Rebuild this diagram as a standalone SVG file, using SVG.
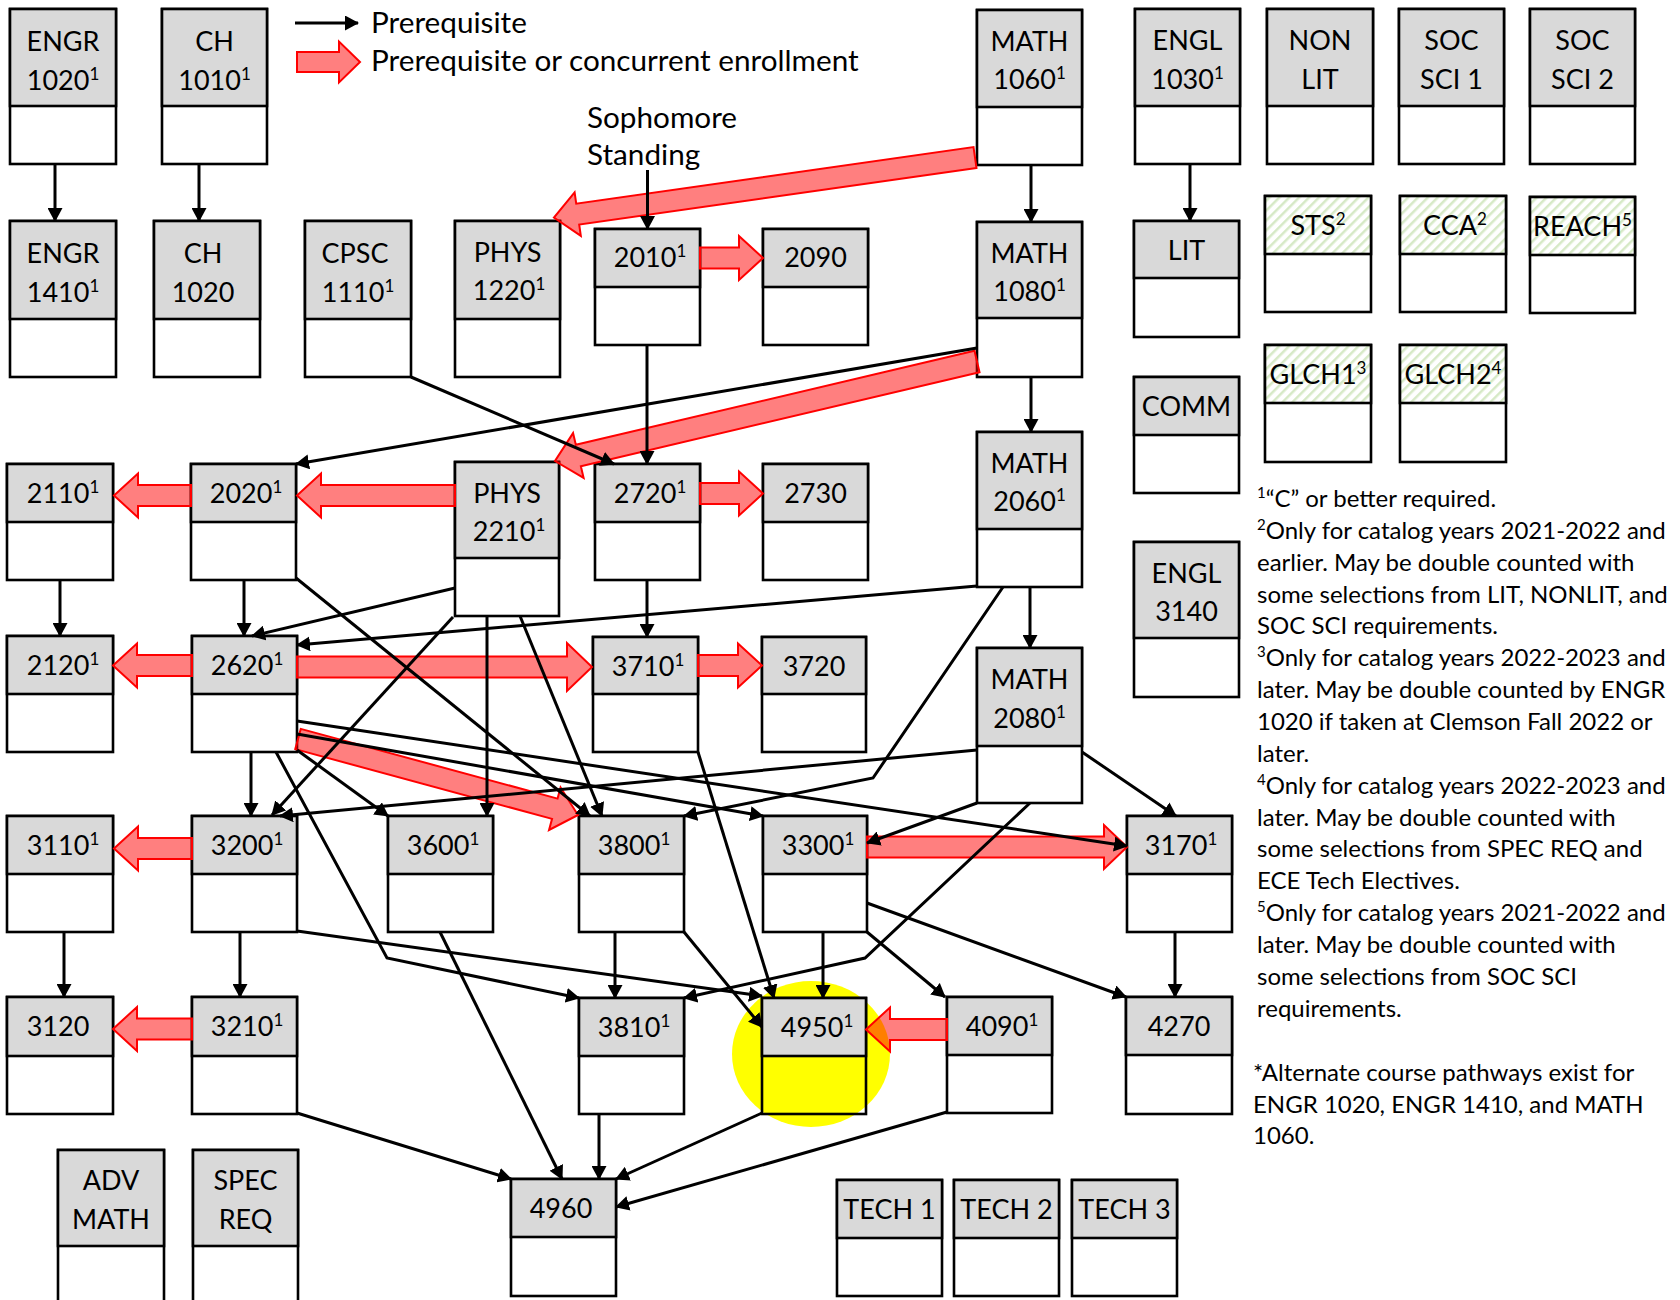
<svg xmlns="http://www.w3.org/2000/svg" width="1680" height="1300" viewBox="0 0 1680 1300">
<style>
.bx{fill:#fff;stroke:#000;stroke-width:2.6}
.bn{fill:none;stroke:#000;stroke-width:2.6}
.hd{fill:#D9D9D9;stroke:#000;stroke-width:2.6}
.ht{fill:url(#hatch);stroke:#000;stroke-width:2.6}
.t{font-family:Lato,"Open Sans",sans-serif;font-size:27px;text-anchor:middle;fill:#000}
.lg{font-family:Lato,"Open Sans",sans-serif;font-size:29.7px;fill:#000}
.fn{font-family:Lato,"Open Sans",sans-serif;font-size:24px;fill:#000}
.sup{font-size:17px}
.fs{font-size:15px}
.c line,.c polyline{stroke:#000;stroke-width:3;fill:none;marker-end:url(#ah)}
.ra{fill:#FF0000;fill-opacity:0.5;stroke:#FF0000;stroke-width:2}
</style>
<defs>
<marker id="ah" viewBox="0 0 14 15" refX="13" refY="7.5" markerWidth="14" markerHeight="15" markerUnits="userSpaceOnUse" orient="auto"><path d="M0,0 L14,7.5 L0,15 Z" fill="#000"/></marker>
<pattern id="hatch" patternUnits="userSpaceOnUse" width="7" height="7" patternTransform="rotate(45)"><rect width="7" height="7" fill="#fff"/><rect width="2.5" height="7" fill="#D6E9C6"/></pattern>
</defs>
<rect width="1680" height="1300" fill="#fff"/>
<ellipse id="highlight" cx="811" cy="1054" rx="79" ry="73" fill="#FFFF00"/>

<g id="nodes">
<g id="engr1020"><rect class="bx" x="10" y="9" width="106" height="155"/><rect class="hd" x="10" y="9" width="106" height="97"/><text class="t" x="63" y="51">ENGR</text><text class="t" x="63" y="90">1020<tspan class="sup" dy="-10">1</tspan></text></g>
<g id="ch1010"><rect class="bx" x="162" y="9" width="105" height="155"/><rect class="hd" x="162" y="9" width="105" height="97"/><text class="t" x="214.5" y="51">CH</text><text class="t" x="214.5" y="90">1010<tspan class="sup" dy="-10">1</tspan></text></g>
<g id="math1060"><rect class="bx" x="977" y="10" width="105" height="155"/><rect class="hd" x="977" y="10" width="105" height="97"/><text class="t" x="1029.5" y="51">MATH</text><text class="t" x="1029.5" y="89">1060<tspan class="sup" dy="-10">1</tspan></text></g>
<g id="engl1030"><rect class="bx" x="1135" y="9" width="105" height="155"/><rect class="hd" x="1135" y="9" width="105" height="97"/><text class="t" x="1187.5" y="50">ENGL</text><text class="t" x="1187.5" y="89">1030<tspan class="sup" dy="-10">1</tspan></text></g>
<g id="nonlit"><rect class="bx" x="1267" y="9" width="106" height="155"/><rect class="hd" x="1267" y="9" width="106" height="97"/><text class="t" x="1320" y="50">NON</text><text class="t" x="1320" y="89">LIT</text></g>
<g id="socsci1"><rect class="bx" x="1399" y="9" width="105" height="155"/><rect class="hd" x="1399" y="9" width="105" height="97"/><text class="t" x="1451.5" y="50">SOC</text><text class="t" x="1451.5" y="89">SCI 1</text></g>
<g id="socsci2"><rect class="bx" x="1530" y="9" width="105" height="155"/><rect class="hd" x="1530" y="9" width="105" height="97"/><text class="t" x="1582.5" y="50">SOC</text><text class="t" x="1582.5" y="89">SCI 2</text></g>

<g id="engr1410"><rect class="bx" x="10" y="221" width="106" height="156"/><rect class="hd" x="10" y="221" width="106" height="98"/><text class="t" x="63" y="263">ENGR</text><text class="t" x="63" y="302">1410<tspan class="sup" dy="-10">1</tspan></text></g>
<g id="ch1020"><rect class="bx" x="154" y="221" width="106" height="156"/><rect class="hd" x="154" y="221" width="106" height="98"/><text class="t" x="203" y="263">CH</text><text class="t" x="203" y="302">1020</text></g>
<g id="cpsc1110"><rect class="bx" x="305" y="221" width="106" height="156"/><rect class="hd" x="305" y="221" width="106" height="98"/><text class="t" x="355" y="263">CPSC</text><text class="t" x="358" y="302">1110<tspan class="sup" dy="-10">1</tspan></text></g>
<g id="phys1220"><rect class="bx" x="455" y="221" width="105" height="156"/><rect class="hd" x="455" y="221" width="105" height="98"/><text class="t" x="507.5" y="262">PHYS</text><text class="t" x="509" y="300">1220<tspan class="sup" dy="-10">1</tspan></text></g>
<g id="n2010"><rect class="bx" x="595" y="229" width="105" height="116"/><rect class="hd" x="595" y="229" width="105" height="58"/><text class="t" x="650" y="267">2010<tspan class="sup" dy="-10">1</tspan></text></g>
<g id="n2090"><rect class="bx" x="763" y="229" width="105" height="116"/><rect class="hd" x="763" y="229" width="105" height="58"/><text class="t" x="815.5" y="267">2090</text></g>
<g id="math1080"><rect class="bx" x="977" y="222" width="105" height="155"/><rect class="hd" x="977" y="222" width="105" height="96"/><text class="t" x="1029.5" y="263">MATH</text><text class="t" x="1029.5" y="301">1080<tspan class="sup" dy="-10">1</tspan></text></g>
<g id="lit"><rect class="bx" x="1134" y="221" width="105" height="116"/><rect class="hd" x="1134" y="221" width="105" height="57"/><text class="t" x="1186.5" y="260">LIT</text></g>
<g id="sts"><rect class="bx" x="1265" y="196" width="106" height="116"/><rect class="ht" x="1265" y="196" width="106" height="58"/><text class="t" x="1318" y="235">STS<tspan class="sup" dy="-10">2</tspan></text></g>
<g id="cca"><rect class="bx" x="1400" y="196" width="106" height="116"/><rect class="ht" x="1400" y="196" width="106" height="58"/><text class="t" x="1455" y="235">CCA<tspan class="sup" dy="-10">2</tspan></text></g>
<g id="reach"><rect class="bx" x="1530" y="197" width="105" height="116"/><rect class="ht" x="1530" y="197" width="105" height="58"/><text class="t" x="1582.5" y="236">REACH<tspan class="sup" dy="-10">5</tspan></text></g>
<g id="glch1"><rect class="bx" x="1265" y="345" width="106" height="117"/><rect class="ht" x="1265" y="345" width="106" height="58"/><text class="t" x="1318" y="384">GLCH1<tspan class="sup" dy="-10">3</tspan></text></g>
<g id="glch2"><rect class="bx" x="1400" y="345" width="106" height="117"/><rect class="ht" x="1400" y="345" width="106" height="58"/><text class="t" x="1453" y="384">GLCH2<tspan class="sup" dy="-10">4</tspan></text></g>
<g id="comm"><rect class="bx" x="1134" y="377" width="105" height="116"/><rect class="hd" x="1134" y="377" width="105" height="58"/><text class="t" x="1186.5" y="416">COMM</text></g>

<g id="math2060"><rect class="bx" x="977" y="432" width="105" height="155"/><rect class="hd" x="977" y="432" width="105" height="97"/><text class="t" x="1029.5" y="473">MATH</text><text class="t" x="1029.5" y="511">2060<tspan class="sup" dy="-10">1</tspan></text></g>
<g id="n2110"><rect class="bx" x="7" y="464" width="106" height="116"/><rect class="hd" x="7" y="464" width="106" height="58"/><text class="t" x="63" y="503">2110<tspan class="sup" dy="-10">1</tspan></text></g>
<g id="n2020"><rect class="bx" x="191" y="464" width="105" height="116"/><rect class="hd" x="191" y="464" width="105" height="58"/><text class="t" x="246" y="503">2020<tspan class="sup" dy="-10">1</tspan></text></g>
<g id="phys2210"><rect class="bx" x="455" y="462" width="104" height="154"/><rect class="hd" x="455" y="462" width="104" height="96"/><text class="t" x="507" y="503">PHYS</text><text class="t" x="509" y="541">2210<tspan class="sup" dy="-10">1</tspan></text></g>
<g id="n2720"><rect class="bx" x="595" y="464" width="105" height="116"/><rect class="hd" x="595" y="464" width="105" height="58"/><text class="t" x="650" y="503">2720<tspan class="sup" dy="-10">1</tspan></text></g>
<g id="n2730"><rect class="bx" x="763" y="464" width="105" height="116"/><rect class="hd" x="763" y="464" width="105" height="58"/><text class="t" x="815.5" y="503">2730</text></g>
<g id="engl3140"><rect class="bx" x="1134" y="542" width="105" height="155"/><rect class="hd" x="1134" y="542" width="105" height="96"/><text class="t" x="1186.5" y="583">ENGL</text><text class="t" x="1186.5" y="621">3140</text></g>

<g id="n2120"><rect class="bx" x="7" y="636" width="106" height="116"/><rect class="hd" x="7" y="636" width="106" height="58"/><text class="t" x="63" y="675">2120<tspan class="sup" dy="-10">1</tspan></text></g>
<g id="n2620"><rect class="bx" x="192" y="636" width="105" height="116"/><rect class="hd" x="192" y="636" width="105" height="58"/><text class="t" x="247" y="675">2620<tspan class="sup" dy="-10">1</tspan></text></g>
<g id="n3710"><rect class="bx" x="593" y="637" width="105" height="115"/><rect class="hd" x="593" y="637" width="105" height="57"/><text class="t" x="648" y="676">3710<tspan class="sup" dy="-10">1</tspan></text></g>
<g id="n3720"><rect class="bx" x="762" y="637" width="104" height="115"/><rect class="hd" x="762" y="637" width="104" height="57"/><text class="t" x="814" y="676">3720</text></g>
<g id="math2080"><rect class="bx" x="977" y="648" width="105" height="155"/><rect class="hd" x="977" y="648" width="105" height="98"/><text class="t" x="1029.5" y="689">MATH</text><text class="t" x="1029.5" y="728">2080<tspan class="sup" dy="-10">1</tspan></text></g>

<g id="n3110"><rect class="bx" x="7" y="816" width="106" height="116"/><rect class="hd" x="7" y="816" width="106" height="58"/><text class="t" x="63" y="855">3110<tspan class="sup" dy="-10">1</tspan></text></g>
<g id="n3200"><rect class="bx" x="192" y="816" width="105" height="116"/><rect class="hd" x="192" y="816" width="105" height="58"/><text class="t" x="247" y="855">3200<tspan class="sup" dy="-10">1</tspan></text></g>
<g id="n3600"><rect class="bx" x="388" y="816" width="105" height="116"/><rect class="hd" x="388" y="816" width="105" height="58"/><text class="t" x="443" y="855">3600<tspan class="sup" dy="-10">1</tspan></text></g>
<g id="n3800"><rect class="bx" x="579" y="816" width="105" height="116"/><rect class="hd" x="579" y="816" width="105" height="58"/><text class="t" x="634" y="855">3800<tspan class="sup" dy="-10">1</tspan></text></g>
<g id="n3300"><rect class="bx" x="763" y="816" width="104" height="116"/><rect class="hd" x="763" y="816" width="104" height="58"/><text class="t" x="818" y="855">3300<tspan class="sup" dy="-10">1</tspan></text></g>
<g id="n3170"><rect class="bx" x="1127" y="816" width="105" height="116"/><rect class="hd" x="1127" y="816" width="105" height="58"/><text class="t" x="1181" y="855">3170<tspan class="sup" dy="-10">1</tspan></text></g>

<g id="n3120"><rect class="bx" x="7" y="997" width="106" height="117"/><rect class="hd" x="7" y="997" width="106" height="59"/><text class="t" x="58" y="1036">3120</text></g>
<g id="n3210"><rect class="bx" x="192" y="997" width="105" height="117"/><rect class="hd" x="192" y="997" width="105" height="59"/><text class="t" x="247" y="1036">3210<tspan class="sup" dy="-10">1</tspan></text></g>
<g id="n3810"><rect class="bx" x="579" y="998" width="105" height="116"/><rect class="hd" x="579" y="998" width="105" height="58"/><text class="t" x="634" y="1037">3810<tspan class="sup" dy="-10">1</tspan></text></g>
<g id="n4950"><rect class="bn" x="762" y="998" width="104" height="116"/><rect class="hd" x="762" y="998" width="104" height="58"/><text class="t" x="817" y="1037">4950<tspan class="sup" dy="-10">1</tspan></text></g>
<g id="n4090"><rect class="bx" x="947" y="997" width="105" height="116"/><rect class="hd" x="947" y="997" width="105" height="58"/><text class="t" x="1002" y="1036">4090<tspan class="sup" dy="-10">1</tspan></text></g>
<g id="n4270"><rect class="bx" x="1126" y="997" width="106" height="117"/><rect class="hd" x="1126" y="997" width="106" height="58"/><text class="t" x="1179" y="1036">4270</text></g>

<g id="advmath"><rect class="bx" x="58" y="1150" width="106" height="160"/><rect class="hd" x="58" y="1150" width="106" height="96"/><text class="t" x="111" y="1190">ADV</text><text class="t" x="111" y="1229">MATH</text></g>
<g id="specreq"><rect class="bx" x="193" y="1150" width="105" height="160"/><rect class="hd" x="193" y="1150" width="105" height="96"/><text class="t" x="245.5" y="1190">SPEC</text><text class="t" x="245.5" y="1229">REQ</text></g>
<g id="n4960"><rect class="bx" x="511" y="1179" width="105" height="117"/><rect class="hd" x="511" y="1179" width="105" height="58"/><text class="t" x="561" y="1218">4960</text></g>
<g id="tech1"><rect class="bx" x="837" y="1180" width="105" height="116"/><rect class="hd" x="837" y="1180" width="105" height="58"/><text class="t" x="889.5" y="1219">TECH 1</text></g>
<g id="tech2"><rect class="bx" x="954" y="1180" width="105" height="116"/><rect class="hd" x="954" y="1180" width="105" height="58"/><text class="t" x="1006.5" y="1219">TECH 2</text></g>
<g id="tech3"><rect class="bx" x="1072" y="1180" width="105" height="116"/><rect class="hd" x="1072" y="1180" width="105" height="58"/><text class="t" x="1124.5" y="1219">TECH 3</text></g>
</g>

<g id="concurrent-arrows">
<polygon class="ra" points="700,247.5 739,247.5 739,236 763,258 739,280 739,268.5 700,268.5"/>
<polygon class="ra" points="700,483 739,483 739,471.5 763,493.5 739,515.5 739,504 700,504"/>
<polygon class="ra" points="698,655 738,655 738,643.5 762,665.5 738,687.5 738,676 698,676"/>
<polygon class="ra" points="297,656.5 567,656.5 567,643 592,667 567,691 567,677.5 297,677.5"/>
<polygon class="ra" points="191,485 138,485 138,473.5 114,495.5 138,517.5 138,506 191,506"/>
<polygon class="ra" points="455,485 321,485 321,473.5 297,495.5 321,517.5 321,506 455,506"/>
<polygon class="ra" points="192,655 137,655 137,643.5 113,665.5 137,687.5 137,676 192,676"/>
<polygon class="ra" points="192,838 138,838 138,826.5 114,848.5 138,870.5 138,859 192,859"/>
<polygon class="ra" points="192,1018.5 137,1018.5 137,1007 113,1029 137,1051 137,1039.5 192,1039.5"/>
<polygon class="ra" points="867,836.5 1104,836.5 1104,825 1127,847 1104,869 1104,857.5 867,857.5"/>
<polygon class="ra" points="947,1019 890,1019 890,1007.5 866,1029.5 890,1051.5 890,1040 947,1040"/>
<path class="ra" transform="translate(975,157.5) rotate(171.89)" d="M0,-10.5 H401.3 V-22 L425.3,0 L401.3,22 V10.5 H0 Z"/>
<path class="ra" transform="translate(977,361.5) rotate(166.73)" d="M0,-11 H409.6 V-23 L433.6,0 L409.6,23 V11 H0 Z"/>
<path class="ra" transform="translate(298,739) rotate(15.19)" d="M0,-10.5 H266.1 V-22 L290.1,0 L266.1,22 V10.5 H0 Z"/>
</g>

<g id="connectors" class="c">
<line x1="55" y1="164" x2="55" y2="221"/>
<line x1="199" y1="164" x2="199" y2="221"/>
<line x1="647.5" y1="170" x2="647.5" y2="229"/>
<line x1="1031" y1="165" x2="1031" y2="222"/>
<line x1="1190" y1="164" x2="1190" y2="221"/>
<line x1="411" y1="377" x2="614" y2="464"/>
<line x1="647" y1="345" x2="647" y2="464"/>
<line x1="977" y1="348" x2="296" y2="464"/>
<line x1="1031" y1="377" x2="1031" y2="432"/>
<line x1="455" y1="588" x2="252" y2="636"/>
<line x1="977" y1="586" x2="297" y2="645"/>
<line x1="244" y1="580" x2="244" y2="636"/>
<line x1="60" y1="580" x2="60" y2="636"/>
<line x1="647" y1="580" x2="647" y2="637"/>
<line x1="1030" y1="587" x2="1030" y2="648"/>
<line x1="296" y1="578" x2="590" y2="816"/>
<line x1="520" y1="616" x2="602" y2="816"/>
<line x1="487" y1="616" x2="487" y2="816"/>
<line x1="453" y1="617" x2="272" y2="815"/>
<line x1="977" y1="750" x2="280" y2="816"/>
<line x1="297" y1="721" x2="1127" y2="846"/>
<line x1="297" y1="734" x2="763" y2="816"/>
<line x1="297" y1="750" x2="388" y2="816"/>
<line x1="251" y1="752" x2="251" y2="816"/>
<polyline points="276,752 387,958 579,998"/>
<polyline points="1003,587 873,778 684,816"/>
<line x1="977" y1="803" x2="867" y2="843"/>
<polyline points="1030,803 865,958 684,998"/>
<line x1="1082" y1="752" x2="1176" y2="816"/>
<line x1="64" y1="932" x2="64" y2="997"/>
<line x1="240" y1="932" x2="240" y2="997"/>
<line x1="297" y1="931" x2="762" y2="996"/>
<line x1="698" y1="752" x2="774" y2="998"/>
<line x1="615" y1="932" x2="615" y2="998"/>
<line x1="684" y1="932" x2="762" y2="1027"/>
<line x1="823" y1="932" x2="823" y2="998"/>
<line x1="867" y1="932" x2="945" y2="997"/>
<line x1="867" y1="903" x2="1126" y2="997"/>
<line x1="1175" y1="932" x2="1175" y2="997"/>
<line x1="297" y1="1113" x2="511" y2="1179"/>
<line x1="440" y1="932" x2="562" y2="1179"/>
<line x1="599" y1="1114" x2="599" y2="1179"/>
<line x1="762" y1="1113" x2="616" y2="1179"/>
<line x1="947" y1="1112" x2="616" y2="1207"/>
</g>

<g id="legend">
<g class="c"><line x1="295" y1="23" x2="358" y2="23"/></g>
<text class="lg" x="371" y="33">Prerequisite</text>
<polygon class="ra" points="297,52 339,52 339,41.5 360,62 339,82.5 339,72 297,72"/>
<text class="lg" x="371" y="71">Prerequisite or concurrent enrollment</text>
<text class="lg" x="587" y="128">Sophomore</text>
<text class="lg" x="587" y="165">Standing</text>
</g>

<g id="footnotes">
<text class="fn" x="1257" y="507"><tspan class="fs" dy="-9">1</tspan><tspan dy="9">“C” or better required.</tspan></text>
<text class="fn" x="1257" y="539"><tspan class="fs" dy="-9">2</tspan><tspan dy="9">Only for catalog years 2021-2022 and</tspan></text>
<text class="fn" x="1257" y="571">earlier. May be double counted with</text>
<text class="fn" x="1257" y="603">some selections from LIT, NONLIT, and</text>
<text class="fn" x="1257" y="634">SOC SCI requirements.</text>
<text class="fn" x="1257" y="666"><tspan class="fs" dy="-9">3</tspan><tspan dy="9">Only for catalog years 2022-2023 and</tspan></text>
<text class="fn" x="1257" y="698">later. May be double counted by ENGR</text>
<text class="fn" x="1257" y="730">1020 if taken at Clemson Fall 2022 or</text>
<text class="fn" x="1257" y="762">later.</text>
<text class="fn" x="1257" y="794"><tspan class="fs" dy="-9">4</tspan><tspan dy="9">Only for catalog years 2022-2023 and</tspan></text>
<text class="fn" x="1257" y="826">later. May be double counted with</text>
<text class="fn" x="1257" y="857">some selections from SPEC REQ and</text>
<text class="fn" x="1257" y="889">ECE Tech Electives.</text>
<text class="fn" x="1257" y="921"><tspan class="fs" dy="-9">5</tspan><tspan dy="9">Only for catalog years 2021-2022 and</tspan></text>
<text class="fn" x="1257" y="953">later. May be double counted with</text>
<text class="fn" x="1257" y="985">some selections from SOC SCI</text>
<text class="fn" x="1257" y="1017">requirements.</text>
<text class="fn" x="1253" y="1081">*Alternate course pathways exist for</text>
<text class="fn" x="1253" y="1113">ENGR 1020, ENGR 1410, and MATH</text>
<text class="fn" x="1253" y="1144">1060.</text>
</g>
</svg>
